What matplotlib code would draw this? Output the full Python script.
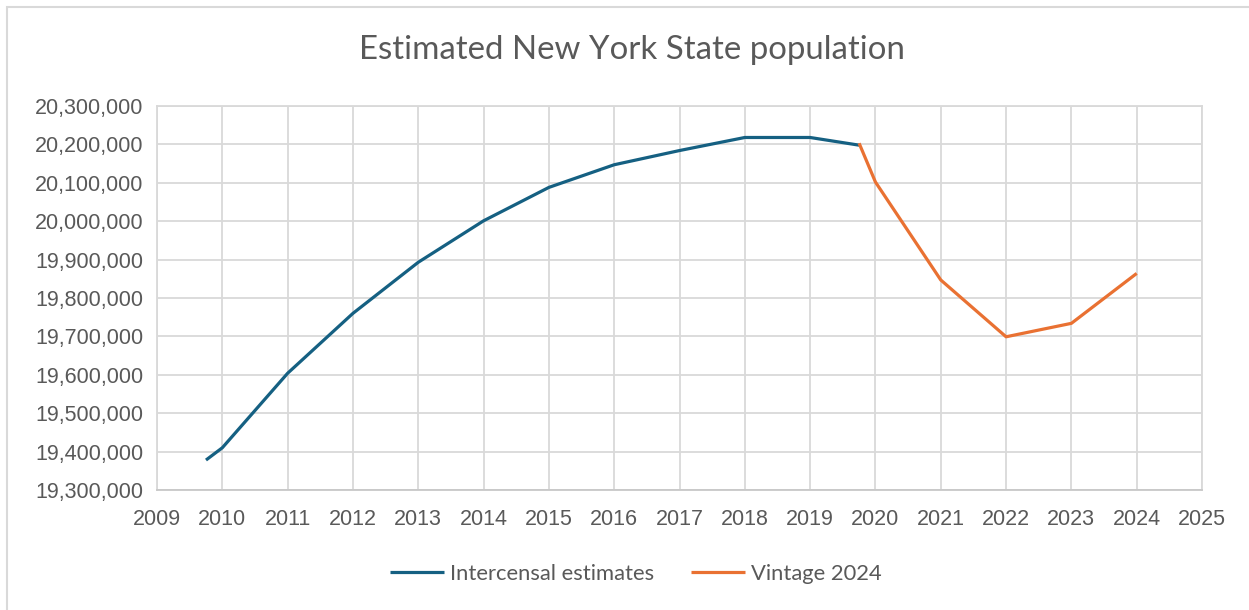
import matplotlib
matplotlib.use("Agg")
import matplotlib.pyplot as plt
from matplotlib.ticker import FuncFormatter, MultipleLocator
from matplotlib.patches import Rectangle

# Data
intercensal_years = [2009.75, 2010, 2011, 2012, 2013, 2014, 2015, 2016, 2017, 2018, 2019, 2019.75]
intercensal_pop = [19378000, 19410000, 19604000, 19760000, 19893000, 20001000, 20088000,
                   20147000, 20184000, 20218000, 20218000, 20198000]
vintage_years = [2019.75, 2020, 2021, 2022, 2023, 2024]
vintage_pop = [20203000, 20102000, 19847000, 19699000, 19734000, 19864000]

title = "Estimated New York State population"
series_names = ["Intercensal estimates", "Vintage 2024"]

BLUE = "#156082"
ORANGE = "#E97132"
TEXT = "#595959"
GRID = "#D9D9D9"

W, H = 1249, 610
fig = plt.figure(figsize=(W / 100, H / 100), dpi=100)
ax = fig.add_axes([157 / W, 1 - 490 / H, (1202 - 157) / W, (490 - 106) / H])

ax.plot(intercensal_years, intercensal_pop, color=BLUE, lw=2.3, label=series_names[0],
        solid_capstyle="butt", solid_joinstyle="round")
ax.plot(vintage_years, vintage_pop, color=ORANGE, lw=2.3, label=series_names[1],
        solid_capstyle="butt", solid_joinstyle="round")

ax.set_xlim(2009, 2025)
ax.set_ylim(19300000, 20300000)
ax.xaxis.set_major_locator(MultipleLocator(1))
ax.yaxis.set_major_locator(MultipleLocator(100000))
ax.yaxis.set_major_formatter(FuncFormatter(lambda v, p: f"{int(round(v)):,}"))
ax.grid(True, color=GRID, lw=1.3)
ax.set_axisbelow(True)
for s in ax.spines.values():
    s.set_color(GRID)
    s.set_linewidth(1.3)
ax.spines["bottom"].set_color("#C8C8C8")
ax.tick_params(length=0, labelsize=15.5, labelcolor=TEXT, pad=10)
for lab in ax.get_xticklabels() + ax.get_yticklabels():
    lab.set_fontfamily("Liberation Sans")
ax.tick_params(axis="x", pad=14)

fig.text(632 / W, 1 - 50 / H, title, ha="center", va="center",
         fontsize=23.8, color=TEXT, family="Lato")

leg = fig.legend(loc="center", bbox_to_anchor=(636 / W, 1 - 574 / H), ncol=2, frameon=False,
                 prop={"family": "Lato", "size": 15.8}, handlelength=2.45, handletextpad=0.27,
                 columnspacing=1.7)
for t in leg.get_texts():
    t.set_color(TEXT)

# outer chart border (top-left visible)
fig.patches.append(Rectangle((7 / W, -0.1), 1.2, 1 - 7 / H + 0.1, transform=fig.transFigure,
                             fill=False, edgecolor=GRID, lw=1.5))

fig.savefig("out.png", dpi=100, facecolor="white")
